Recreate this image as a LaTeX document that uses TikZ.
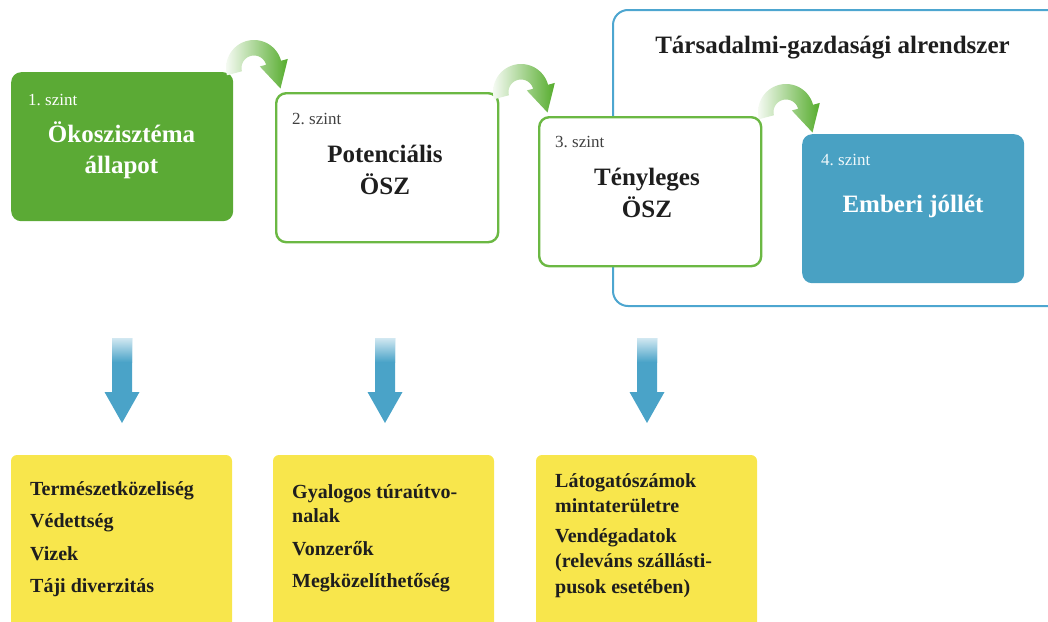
\documentclass[tikz,border=0pt]{standalone}
\usepackage{fontspec}
\setmainfont{Liberation Serif}
\frenchspacing
\definecolor{gfill}{HTML}{5BAA35}
\definecolor{gline}{HTML}{6BB843}
\definecolor{bfill}{HTML}{49A1C3}
\definecolor{bframe}{HTML}{4DA6D0}
\definecolor{yfill}{HTML}{F8E64C}
\definecolor{barrow}{HTML}{4AA3C8}
\definecolor{carrow}{HTML}{55AC2C}
\definecolor{txt}{HTML}{1E1E1E}
\newcommand{\greenarrow}[2]{%
  \begin{scope}[shift={(#1,#2)}]
    \shade[left color=carrow!6!white, middle color=carrow!75!white, right color=carrow]
      plot[domain=165:345, samples=40] ({28*cos(\x)},{28*sin(\x)})
      -- ({35*cos(345)},{35*sin(345)})
      -- (26.5,20.5)
      -- ({6*cos(345)},{6*sin(345)})
      -- plot[domain=345:165, samples=40] ({12.5*cos(\x)},{12.5*sin(\x)})
      -- cycle;
  \end{scope}}
\newcommand{\bluearrow}[1]{%
  \fill[barrow] (#1-10,338) -- (#1+10,338) -- (#1+10,392) -- (#1+17.5,392)
     -- (#1,423) -- (#1-17.5,392) -- (#1-10,392) -- cycle;
  \shade[top color=barrow!25!white, bottom color=barrow] (#1-10,338) rectangle (#1+10,362);}
\begin{document}
\begin{tikzpicture}[x=1pt,y=-1pt,
  boxbase/.style={anchor=north west, inner sep=0pt, minimum width=222pt, minimum height=149pt, rounded corners=10pt},
  greenbox/.style={boxbase, fill=gfill},
  whitebox/.style={boxbase, fill=white, draw=gline, line width=2.4pt},
  bluebox/.style={boxbase, fill=bfill},
  levellbl/.style={anchor=base west, inner sep=0pt, font=\fontsize{17}{20}\selectfont},
  mainlbl/.style={anchor=base, inner sep=0pt, font=\bfseries\fontsize{25}{30}\selectfont},
  itemlbl/.style={anchor=base west, inner sep=0pt, text=txt, font=\bfseries\fontsize{20}{24}\selectfont},
  yellowbox/.style={fill=yfill, rounded corners=6pt}
]
\useasboundingbox (0,0) rectangle (1048,621);

% socio-economic frame
\draw[bframe, line width=2pt, rounded corners=15pt] (613,10) rectangle (1080,306);
\node[anchor=base, inner sep=0pt, text=txt, font=\bfseries\fontsize{25}{30}\selectfont] (title) at (832.5,53) {Társadalmi-gazdasági alrendszer};

% level boxes
\node[greenbox] (b1) at (11,72) {};
\node[whitebox] (b2) at (275,92) {};
\node[whitebox] (b3) at (538,116) {};
\node[bluebox] (b4) at (802,134) {};

% curved arrows
\greenarrow{254}{68}
\greenarrow{521}{92}
\greenarrow{786}{112}

% labels
\node[levellbl, text=white] (l1) at (28,105) {1. szint};
\node[mainlbl, text=white] (m1a) at (121.5,142) {Ökoszisztéma};
\node[mainlbl, text=white] (m1b) at (121.5,173) {állapot};

\node[levellbl, text=txt!85] (l2) at (292,124) {2. szint};
\node[mainlbl, text=txt] (m2a) at (385,162) {Potenciális};
\node[mainlbl, text=txt] (m2b) at (385,194) {ÖSZ};

\node[levellbl, text=txt!85] (l3) at (555,147) {3. szint};
\node[mainlbl, text=txt] (m3a) at (647,185) {Tényleges};
\node[mainlbl, text=txt] (m3b) at (647,217) {ÖSZ};

\node[levellbl, text=white!92!bfill] (l4) at (821,165) {4. szint};
\node[mainlbl, text=white] (m4a) at (913,212) {Emberi jóllét};

% down arrows
\bluearrow{122}
\bluearrow{385}
\bluearrow{647}

% yellow boxes
\fill[yellowbox] (11,455) rectangle (232,640);
\fill[yellowbox] (273,455) rectangle (494,640);
\fill[yellowbox] (536,455) rectangle (757,640);

\node[itemlbl] (i1a) at (30,495) {Természetközeliség};
\node[itemlbl] (i1b) at (30,527) {Védettség};
\node[itemlbl] (i1c) at (30,560) {Vizek};
\node[itemlbl] (i1d) at (30,592) {Táji diverzitás};

\node[itemlbl] (i2a) at (292,498) {Gyalogos túraútvo-};
\node[itemlbl] (i2b) at (292,522) {nalak};
\node[itemlbl] (i2c) at (292,555) {Vonzerők};
\node[itemlbl] (i2d) at (292,587) {Megközelíthetőség};

\node[itemlbl] (i3a) at (555,487) {Látogatószámok};
\node[itemlbl] (i3b) at (555,512) {mintaterületre};
\node[itemlbl] (i3c) at (555,542) {Vendégadatok};
\node[itemlbl] (i3d) at (555,567) {(releváns szállásti-};
\node[itemlbl] (i3e) at (555,593) {pusok esetében)};
\end{tikzpicture}
\end{document}
